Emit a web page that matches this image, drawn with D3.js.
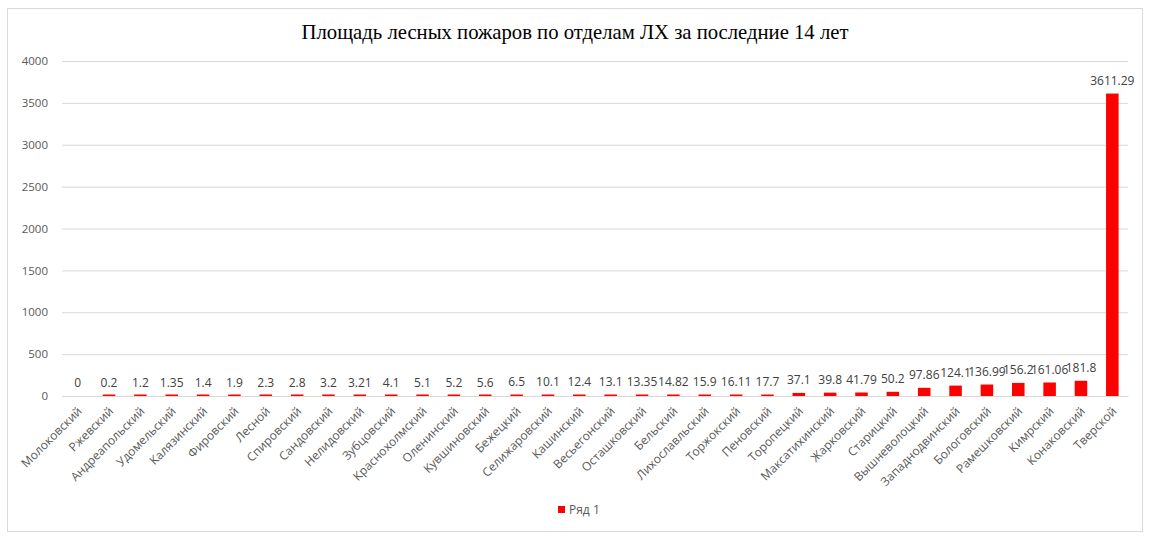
<!DOCTYPE html>
<html>
<head>
<meta charset="utf-8">
<script src="https://cdn.jsdelivr.net/npm/d3@7"></script>
<style>
  body { margin: 0; background: #fff; }
  text { font-family: "Open Sans", "DejaVu Sans", sans-serif; }
</style>
</head>
<body>
<div id="chart"></div>
<script>
// Districts, in the order shown on the chart
const districts = [
    "Молоковский", "Ржевский", "Андреапольский", "Удомельский", "Калязинский",
    "Фировский", "Лесной", "Спировский", "Сандовский", "Нелидовский",
    "Зубцовский", "Краснохолмский", "Оленинский", "Кувшиновский", "Бежецкий",
    "Селижаровский", "Кашинский", "Весьегонский", "Осташковский", "Бельский",
    "Лихославльский", "Торжокский", "Пеновский", "Торопецкий", "Максатихинский",
    "Жарковский", "Старицкий", "Вышневолоцкий", "Западнодвинский", "Бологовский",
    "Рамешковский", "Кимрский", "Конаковский", "Тверской"
];

// Burnt area, one value per district
const area = [
    0, 0.2, 1.2, 1.35, 1.4,
    1.9, 2.3, 2.8, 3.2, 3.21,
    4.1, 5.1, 5.2, 5.6, 6.5,
    10.1, 12.4, 13.1, 13.35, 14.82,
    15.9, 16.11, 17.7, 37.1, 39.8,
    41.79, 50.2, 97.86, 124.1, 136.99,
    156.2, 161.06, 181.8, 3611.29
];

const yTicks = [0, 500, 1000, 1500, 2000, 2500, 3000, 3500, 4000];

const title = "Площадь лесных пожаров по отделам ЛХ за последние 14 лет";
const seriesName = "Ряд 1";

const W = 1152, H = 543;
const plot = {left: 62, right: 1128, top: 61, bottom: 396};

const svg = d3.select("#chart").append("svg")
    .attr("width", W)
    .attr("height", H);

// chart frame
svg.append("rect")
    .attr("x", 7.5).attr("y", 8.5)
    .attr("width", 1135).attr("height", 523)
    .attr("fill", "#fff")
    .attr("stroke", "#d9d9d9");

svg.append("text")
    .attr("x", 575).attr("y", 39)
    .attr("text-anchor", "middle")
    .style("font-family", "'Liberation Serif', 'Times New Roman', serif")
    .style("font-size", "20.7px")
    .attr("fill", "#000")
    .text(title);

const x = d3.scaleBand()
    .domain(districts)
    .range([plot.left, plot.right])
    .paddingInner(0.6)
    .paddingOuter(0.3);

const y = d3.scaleLinear()
    .domain([0, 4000])
    .range([plot.bottom, plot.top]);

// gridlines + y labels
const yAxis = svg.append("g")
    .attr("transform", `translate(${plot.left},0)`)
    .call(d3.axisLeft(y).tickValues(yTicks).tickFormat(d3.format("d"))
        .tickSize(-(plot.right - plot.left)).tickPadding(14));
yAxis.select(".domain").remove();
yAxis.selectAll(".tick line").attr("stroke", "#d9d9d9");
yAxis.selectAll(".tick text")
    .attr("fill", "#595959")
    .style("font-size", "11.5px");

// bars (tiny values still get a hairline so they stay visible, like Excel does)
svg.append("g").selectAll("rect")
    .data(area)
    .join("rect")
    .attr("x", (d, i) => x(districts[i]))
    .attr("width", x.bandwidth())
    .attr("y", d => d > 0 ? Math.min(y(d), y(0) - 1.5) : y(0))
    .attr("height", d => d > 0 ? Math.max(1.5, y(0) - y(d)) + 0.5 : 0)
    .attr("fill", "#ff0000");

// data labels
svg.append("g").selectAll("text")
    .data(area)
    .join("text")
    .attr("x", (d, i) => x(districts[i]) + x.bandwidth() / 2)
    .attr("y", d => y(d) - 9)
    .attr("text-anchor", "middle")
    .attr("fill", "#404040")
    .style("font-size", "12px")
    .text(d => d);

// x axis
const xAxis = svg.append("g")
    .attr("transform", `translate(0,${plot.bottom})`)
    .call(d3.axisBottom(x).tickSize(0).tickPadding(0));
xAxis.select(".domain").attr("stroke", "#d9d9d9");
xAxis.selectAll(".tick text")
    .attr("fill", "#595959")
    .style("font-size", "12px")
    .attr("text-anchor", "end")
    .attr("dy", 0)
    .attr("transform", "translate(5,16) rotate(-45)");

// legend
const legend = svg.append("g").attr("transform", "translate(558,506)");
legend.append("rect")
    .attr("width", 7).attr("height", 7)
    .attr("fill", "#ff0000");
legend.append("text")
    .attr("x", 11).attr("y", 7.5)
    .attr("fill", "#595959")
    .style("font-size", "12px")
    .text(seriesName);
</script>
</body>
</html>
